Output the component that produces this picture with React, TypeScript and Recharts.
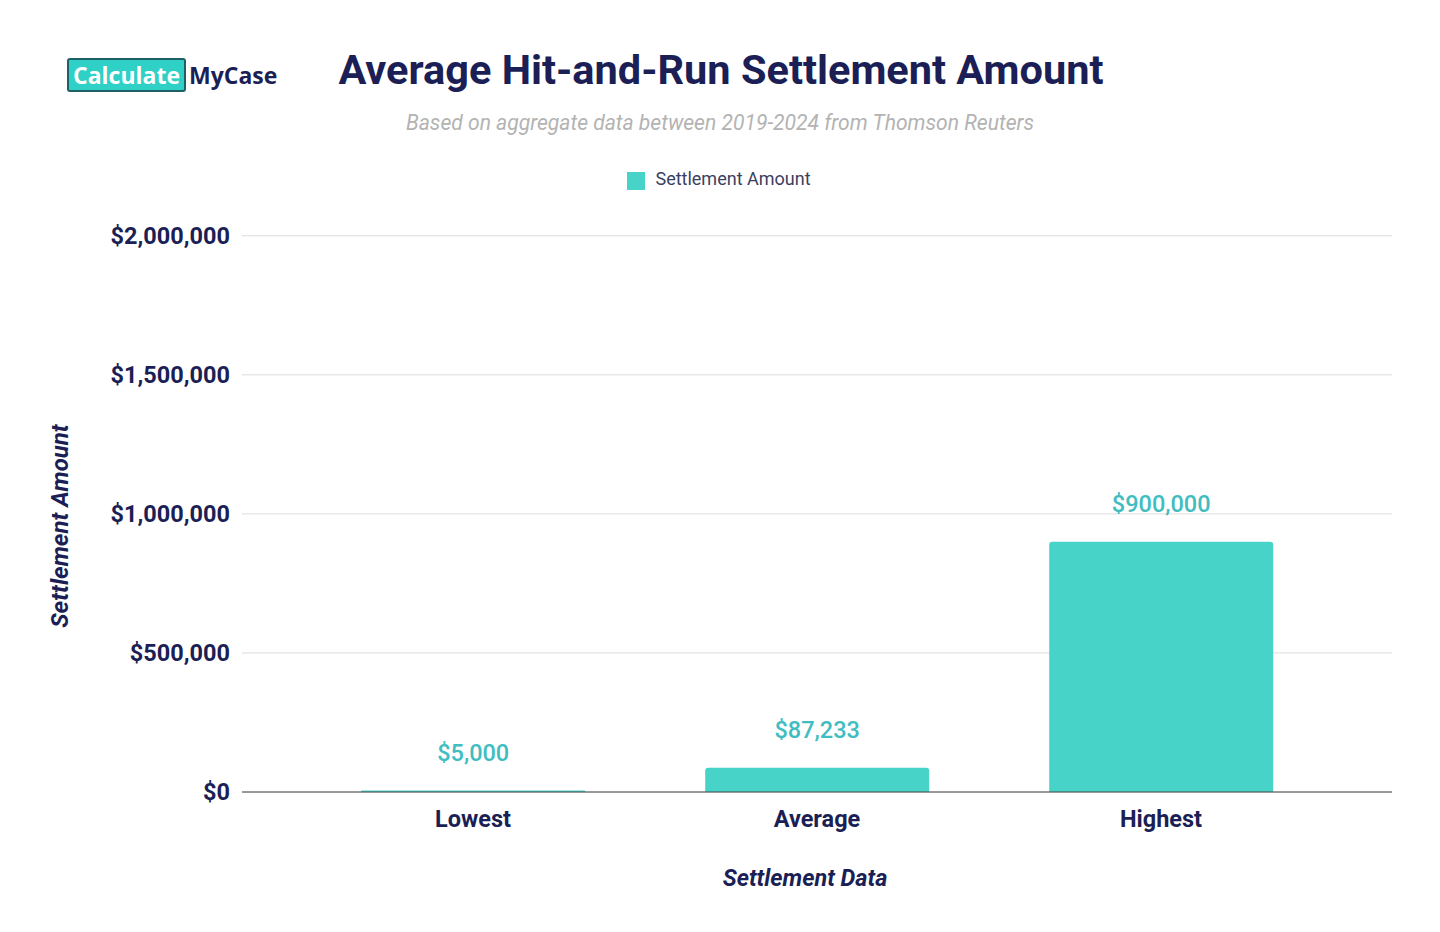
import React from "react";
import { BarChart, Bar, XAxis, YAxis, CartesianGrid, Legend, LabelList, Label } from "recharts";

const categories = ["Lowest", "Average", "Highest"];
const settlementValues = [5000, 87233, 900000];
const yTicks = [0, 500000, 1000000, 1500000, 2000000];

const data = categories.map((c, i) => ({ name: c, value: settlementValues[i] }));

const NAVY = "#1b1f55";
const TEAL = "#48d3c9";
const LABEL_TEAL = "#3fbdc1";
const FONT = "Roboto, 'Noto Sans', sans-serif";

const fmt = (v: number) => "$" + v.toLocaleString("en-US");

export default function App() {
  return (
    <div style={{ position: "absolute", left: 0, top: 0, width: 1440, height: 932, background: "#fff", fontFamily: FONT, overflow: "hidden" }}>
      <div style={{ position: "absolute", left: 67, top: 58, display: "flex", alignItems: "center", fontFamily: "'Open Sans', sans-serif", fontWeight: 700, fontSize: 23 }}>
        <span style={{ background: "#2fd0c5", color: "#fff", border: "2px solid #1f5f66", borderRadius: 3, padding: "0 4px", lineHeight: "30px", height: 30 }}>Calculate</span>
        <span style={{ color: NAVY, marginLeft: 3 }}>MyCase</span>
      </div>
      <div style={{ position: "absolute", left: 0, width: 1440, top: 45, textAlign: "center" }}>
        <span style={{ fontSize: 41.5, fontWeight: 700, color: NAVY, position: "relative", left: 1 }}>Average Hit-and-Run Settlement Amount</span>
      </div>
      <div style={{ position: "absolute", left: 0, width: 1440, top: 110, textAlign: "center", fontSize: 21.1, fontStyle: "italic", color: "#b3b3b3" }}>
        Based on aggregate data between 2019-2024 from Thomson Reuters
      </div>
      <div style={{ position: "absolute", left: 0, top: 0 }}>
        <BarChart width={1440} height={932} data={data} margin={{ top: 214, right: 48, bottom: 110, left: 92 }} barCategoryGap="17.5%">
          <CartesianGrid vertical={false} stroke="#dcdcdc" />
          <Legend
            verticalAlign="top"
            align="center"
            iconType="square"
            iconSize={18}
            wrapperStyle={{ top: 168, left: 4, width: 1440 }}
            formatter={(v: string) => <span style={{ color: "#3b3f5f", fontSize: 18, marginLeft: 6 }}>{v}</span>}
          />
          <XAxis
            dataKey="name"
            padding={{ left: 59, right: 59 }}
            tickLine={false}
            axisLine={{ stroke: "#444" }}
            tick={{ fill: NAVY, fontSize: 23.5, fontWeight: 700, fontFamily: FONT }}
            tickMargin={12}
          >
            <Label
              content={() => (
                <text x={805} y={886} textAnchor="middle" fill={NAVY} fontSize={23.4} fontWeight={700} fontStyle="italic" fontFamily={FONT}>
                  Settlement Data
                </text>
              )}
            />
          </XAxis>
          <YAxis
            width={150}
            domain={[0, 2000000]}
            ticks={yTicks}
            tickFormatter={fmt}
            tickLine={false}
            axisLine={false}
            tickMargin={6}
            tick={{ fill: NAVY, fontSize: 23.5, fontWeight: 700, fontFamily: FONT }}
          >
            <Label
              content={() => (
                <text x={68} y={526} transform="rotate(-90 68 526)" textAnchor="middle" fill={NAVY} fontSize={24} fontWeight={700} fontStyle="italic" fontFamily={FONT}>
                  Settlement Amount
                </text>
              )}
            />
          </YAxis>
          <Bar dataKey="value" name="Settlement Amount" fill={TEAL} radius={[3, 3, 0, 0]} isAnimationActive={false}>
            <LabelList dataKey="value" position="top" offset={30} formatter={(v: any) => fmt(Number(v))} fill={LABEL_TEAL} fontSize={23.5} fontWeight={500} fontFamily={FONT} />
          </Bar>
        </BarChart>
      </div>
    </div>
  );
}
